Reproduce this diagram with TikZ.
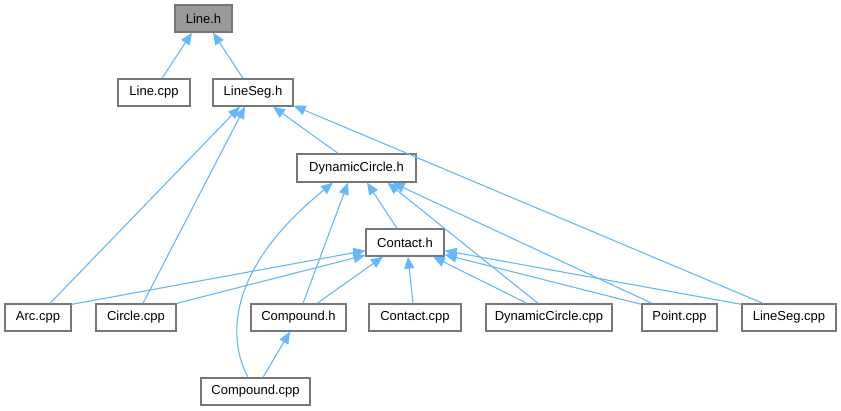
\documentclass[tikz,border=0pt]{standalone}
\usepackage{fontspec}
\setmainfont{Liberation Sans}
\usetikzlibrary{arrows.meta}
\definecolor{edgeblue}{HTML}{63B8FF}
\definecolor{boxborder}{HTML}{777777}
\definecolor{boxfill}{HTML}{999999}
\begin{document}
\begin{tikzpicture}[x=1pt,y=-1pt,
  file/.style={draw=boxborder,line width=1.3pt,fill=white,inner sep=0pt,
    minimum height=27pt,font=\fontsize{13}{15}\selectfont,anchor=center},
  focus/.style={file,fill=boxfill},
  dep/.style={draw=edgeblue,line width=1.1pt,-{Triangle[length=12pt,width=10pt]}}]
\useasboundingbox (0,0) rectangle (841,411);
\fill[white] (0,0) rectangle (841,411);
% nodes
\node[focus,minimum width=57pt] (lineh) at (203.5,18.5) {Line.h};
\node[file,minimum width=72pt] (linecpp) at (154,92.5) {Line.cpp};
\node[file,minimum width=80pt] (linesegh) at (253,92.5) {LineSeg.h};
\node[file,minimum width=119pt,minimum height=28pt] (dch) at (356.5,168) {DynamicCircle.h};
\node[file,minimum width=78pt] (contacth) at (405,242.5) {Contact.h};
\node[file,minimum width=66pt] (arc) at (38,317.5) {Arc.cpp};
\node[file,minimum width=80pt] (circle) at (136,317.5) {Circle.cpp};
\node[file,minimum width=95pt] (compoundh) at (298.5,317.5) {Compound.h};
\node[file,minimum width=92pt] (contactcpp) at (415,317.5) {Contact.cpp};
\node[file,minimum width=126pt] (dccpp) at (549,317.5) {DynamicCircle.cpp};
\node[file,minimum width=75pt] (point) at (679.5,317.5) {Point.cpp};
\node[file,minimum width=94pt] (linesegcpp) at (789,317.5) {LineSeg.cpp};
\node[file,minimum width=109pt] (compoundcpp) at (255.5,391.5) {Compound.cpp};
% edges
\draw[dep] ([xshift=8pt]linecpp.north) -- ([xshift=-11.5pt]lineh.south);
\draw[dep] ([xshift=-10pt]linesegh.north) -- ([xshift=9.5pt]lineh.south);
\draw[dep] ([xshift=-18.5pt]dch.north) -- ([xshift=20pt]linesegh.south);
\draw[dep] ([xshift=12pt]arc.north) -- ([xshift=-13pt]linesegh.south);
\draw[dep] ([xshift=7pt]circle.north) -- ([xshift=-8pt]linesegh.south);
\draw[dep] ([xshift=-26pt]linesegcpp.north) -- ([yshift=1pt]linesegh.south east);
\draw[dep] ([xshift=-8pt]contacth.north) -- ([xshift=10.5pt]dch.south);
\draw[dep] ([xshift=4.5pt]compoundh.north) -- ([xshift=-8.5pt]dch.south);
\draw[dep] ([xshift=-7.5pt]compoundcpp.north) .. controls (228,340) and (225,270) .. ([xshift=-23.5pt]dch.south);
\draw[dep] ([xshift=-11pt]dccpp.north) -- ([xshift=31pt]dch.south);
\draw[dep] ([xshift=-27.5pt]point.north) -- ([xshift=36pt]dch.south);
\draw[dep] ([yshift=-1pt]arc.north east) -- ([yshift=6pt]contacth.south west);
\draw[dep] (circle.north east) -- ([yshift=1.5pt]contacth.south west);
\draw[dep] ([xshift=18.5pt]compoundh.north) -- ([xshift=-22pt]contacth.south);
\draw[dep] ([xshift=-2pt]contactcpp.north) -- ([xshift=3pt]contacth.south);
\draw[dep] ([xshift=-22pt]dccpp.north) -- ([xshift=28pt]contacth.south);
\draw[dep] ([yshift=-1pt]point.north west) -- ([yshift=2pt]contacth.south east);
\draw[dep] ([yshift=-1pt]linesegcpp.north west) -- ([yshift=6pt]contacth.south east);
\draw[dep] ([xshift=7.5pt]compoundcpp.north) -- ([xshift=-8.5pt]compoundh.south);
\end{tikzpicture}
\end{document}
